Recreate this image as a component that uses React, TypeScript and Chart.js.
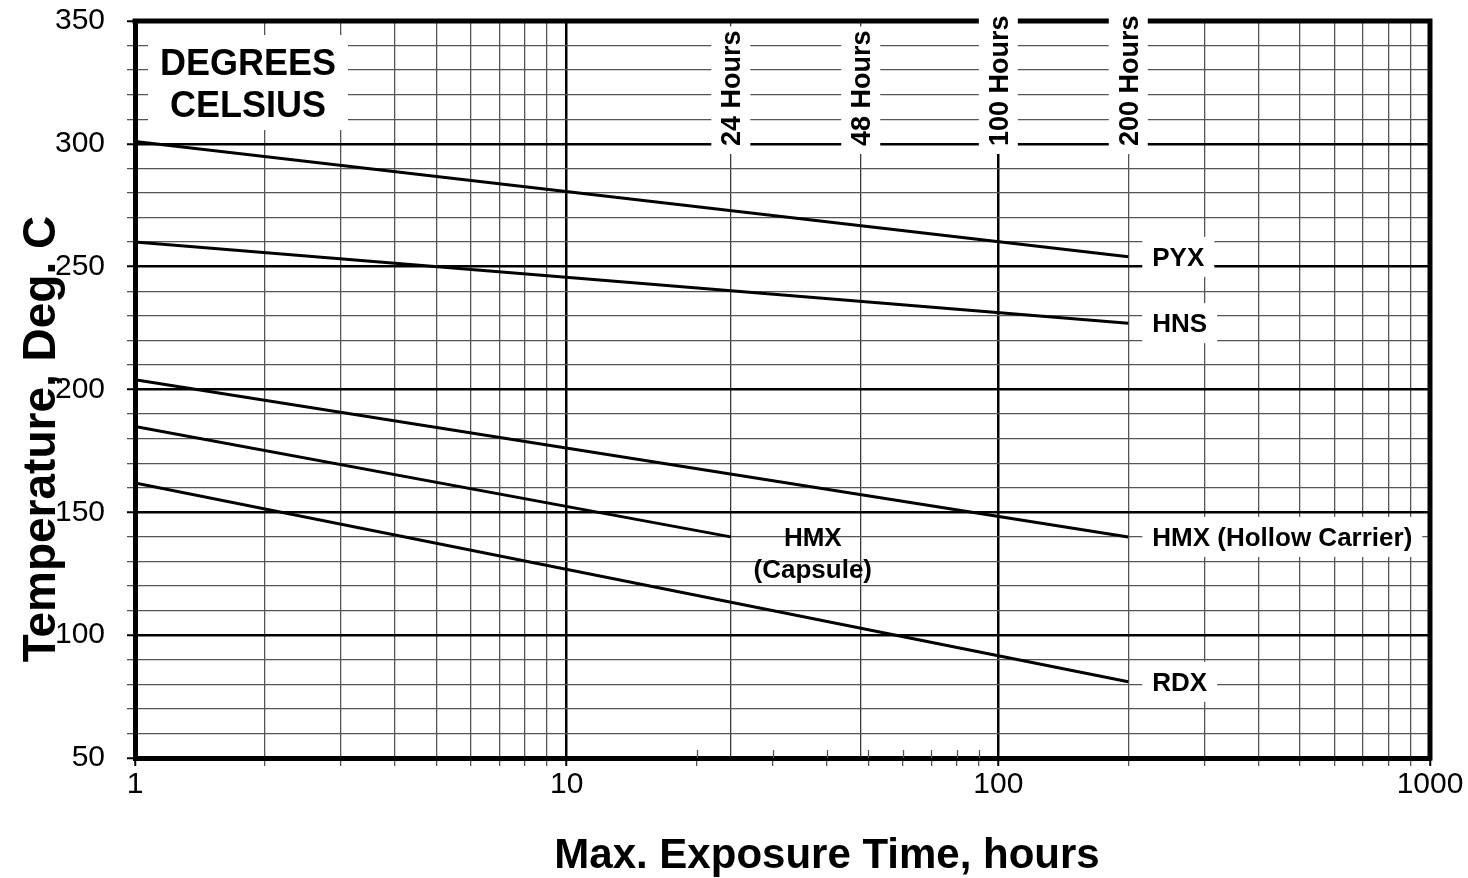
import React, { useEffect, useRef } from 'react';
import { Chart, registerables } from 'chart.js';

Chart.register(...registerables);

// ---- data ----
const seriesNames = ['PYX', 'HNS', 'HMX (Hollow Carrier)', 'HMX (Capsule)', 'RDX'];
const seriesLabelLines = [['PYX'], ['HNS'], ['HMX (Hollow Carrier)'], ['HMX', '(Capsule)'], ['RDX']];
const startHours = [1, 1, 1, 1, 1];
const endHours = [200, 200, 200, 24, 200];
const startTemps = [301, 260, 204, 185, 162];
const endTemps = [254, 227, 140, 140, 81];

const xTickValues = [1, 2, 3, 4, 5, 6, 7, 8, 9, 10, 20, 24, 30, 40, 48, 50, 60, 70, 80, 90, 100, 200, 300, 400, 500, 600, 700, 800, 900, 1000];
const xTickLabels = ['1', '10', '100', '1000'];
const yTickValues = [50, 60, 70, 80, 90, 100, 110, 120, 130, 140, 150, 160, 170, 180, 190, 200, 210, 220, 230, 240, 250, 260, 270, 280, 290, 300, 310, 320, 330, 340, 350];
const yTickLabels = ['50', '100', '150', '200', '250', '300', '350'];
const hourMarkers = [24, 48, 100, 200];
const hourLabels = ['24 Hours', '48 Hours', '100 Hours', '200 Hours'];
const boxTitle = ['DEGREES', 'CELSIUS'];
const xTitle = 'Max. Exposure Time, hours';
const yTitle = 'Temperature, Deg. C';

const FONT = "'Liberation Sans', Arial, Helvetica, sans-serif";
const MINOR = '#555555';
const CLEAR = 'rgba(0,0,0,0)';

export default function App() {
  const ref = useRef<HTMLCanvasElement>(null);

  useEffect(() => {
    document.body.style.margin = '0';
    const canvas = ref.current!;

    const isDecade = (v: number) => xTickLabels.includes(String(v));

    const overlay = {
      id: 'overlay',
      beforeDatasetsDraw(chart: any) {
        const { ctx, chartArea: a, scales } = chart;
        const xs = scales.x;
        ctx.save();
        ctx.strokeStyle = MINOR;
        ctx.lineWidth = 1.3;
        xs.ticks.forEach((t: any) => {
          const v = t.value;
          if (v > 10 && v < 100 && !hourMarkers.includes(v)) {
            const px = Math.round(xs.getPixelForValue(v)) + 0.5;
            ctx.beginPath();
            ctx.moveTo(px, a.bottom - 8);
            ctx.lineTo(px, a.bottom);
            ctx.stroke();
          }
        });
        ctx.strokeStyle = '#000';
        ctx.lineWidth = 5;
        ctx.lineCap = 'square';
        ctx.beginPath();
        ctx.moveTo(a.left, a.top);
        ctx.lineTo(a.right, a.top);
        ctx.lineTo(a.right, a.bottom);
        ctx.stroke();
        ctx.restore();
      },
      afterDraw(chart: any) {
        const { ctx, chartArea: a, scales } = chart;
        const xs = scales.x;
        const ys = scales.y;
        ctx.save();

        // hour labels (rotated, white background)
        ctx.font = `bold 27px ${FONT}`;
        hourMarkers.forEach((h, i) => {
          const px = xs.getPixelForValue(h);
          const base = a.top + 125;
          const w = ctx.measureText(hourLabels[i]).width;
          ctx.save();
          ctx.translate(px, base);
          ctx.rotate(-Math.PI / 2);
          ctx.fillStyle = '#fff';
          ctx.fillRect(-8, -19.5, w + 12, 39);
          ctx.fillStyle = '#000';
          ctx.textAlign = 'left';
          ctx.textBaseline = 'alphabetic';
          ctx.fillText(hourLabels[i], 0, 9.6);
          ctx.restore();
        });

        // series labels
        ctx.font = `bold 26px ${FONT}`;
        seriesNames.forEach((_, i) => {
          const ex = xs.getPixelForValue(endHours[i]);
          const ey = ys.getPixelForValue(endTemps[i]);
          const lines = seriesLabelLines[i];
          if (lines.length === 1) {
            const w = ctx.measureText(lines[0]).width;
            ctx.fillStyle = '#fff';
            ctx.fillRect(ex + 14, ey - 20, w + 20, 40);
            ctx.fillStyle = '#000';
            ctx.textAlign = 'left';
            ctx.textBaseline = 'alphabetic';
            ctx.fillText(lines[0], ex + 24, ey + 9.3);
          } else {
            ctx.fillStyle = '#000';
            ctx.textAlign = 'center';
            ctx.textBaseline = 'alphabetic';
            lines.forEach((ln, k) => {
              ctx.fillText(ln, ex + 82, ey + 9.3 + k * 32);
            });
          }
        });

        // DEGREES CELSIUS box
        ctx.fillStyle = '#fff';
        ctx.fillRect(a.left + 13, a.top + 14, 200, 95);
        ctx.fillStyle = '#000';
        ctx.font = `bold 36px ${FONT}`;
        ctx.textAlign = 'center';
        ctx.textBaseline = 'alphabetic';
        ctx.fillText(boxTitle[0], a.left + 113, a.top + 54);
        ctx.fillText(boxTitle[1], a.left + 113, a.top + 96);

        // axis titles
        ctx.font = `bold 42px ${FONT}`;
        ctx.fillText(xTitle, a.left + 692, a.bottom + 110);

        ctx.save();
        ctx.font = `bold 46px ${FONT}`;
        ctx.translate(55, a.top + 418);
        ctx.rotate(-Math.PI / 2);
        ctx.textAlign = 'center';
        ctx.fillText(yTitle, 0, 0);
        ctx.restore();

        ctx.restore();
      },
    };

    const datasets = seriesNames.map((name, i) => ({
      label: name,
      data: [
        { x: startHours[i], y: startTemps[i] },
        { x: endHours[i], y: endTemps[i] },
      ],
      borderColor: '#000',
      borderWidth: 3,
      pointRadius: 0,
      fill: false,
      tension: 0,
    }));

    const chart = new Chart(canvas, {
      type: 'line',
      data: { datasets },
      plugins: [overlay],
      options: {
        responsive: false,
        animation: false,
        devicePixelRatio: 1,
        layout: { padding: { left: 0, top: 21, right: 38, bottom: 0 } },
        plugins: { legend: { display: false }, tooltip: { enabled: false }, title: { display: false } },
        scales: {
          x: {
            type: 'logarithmic',
            min: 1,
            max: 1000,
            afterBuildTicks: (scale: any) => {
              scale.ticks = xTickValues.map((v) => ({ value: v }));
            },
            afterFit: (scale: any) => {
              scale.height = 120;
              scale.paddingLeft = 0;
              scale.paddingRight = 0;
            },
            ticks: {
              autoSkip: false,
              maxRotation: 0,
              minRotation: 0,
              padding: 1,
              color: '#000',
              font: { family: FONT, size: 30 },
              callback: (v: any) => (xTickLabels.includes(String(v)) ? String(v) : ''),
            },
            grid: {
              color: (c: any) => {
                const v = c.tick?.value;
                if (isDecade(v)) return '#000';
                if (v === 24 || v === 48) return '#3a3a3a';
                if (v > 10 && v < 100) return CLEAR;
                return MINOR;
              },
              lineWidth: (c: any) => (isDecade(c.tick?.value) ? 2.5 : 1.3),
              tickColor: (c: any) => {
                const v = c.tick?.value;
                if (v === 24 || v === 48) return CLEAR;
                if (isDecade(v)) return '#000';
                return MINOR;
              },
              tickWidth: (c: any) => (isDecade(c.tick?.value) ? 2 : 1.3),
              tickLength: 8,
            },
            border: { display: true, color: '#000', width: 5 },
          },
          y: {
            type: 'linear',
            min: 50,
            max: 350,
            afterBuildTicks: (scale: any) => {
              scale.ticks = yTickValues.map((v) => ({ value: v }));
            },
            afterFit: (scale: any) => {
              scale.width = 135;
              scale.paddingTop = 0;
              scale.paddingBottom = 0;
            },
            ticks: {
              autoSkip: false,
              padding: 22,
              color: '#000',
              font: { family: FONT, size: 30 },
              callback: (v: any) => (yTickLabels.includes(String(v)) ? String(v) : ''),
            },
            grid: {
              color: (c: any) => (c.tick?.value % 50 === 0 ? '#000' : MINOR),
              lineWidth: (c: any) => (c.tick?.value % 50 === 0 ? 2.5 : 1.3),
              tickColor: (c: any) => (c.tick?.value % 50 === 0 ? '#000' : MINOR),
              tickWidth: (c: any) => (c.tick?.value % 50 === 0 ? 2 : 1.3),
              tickLength: 8,
            },
            border: { display: true, color: '#000', width: 5 },
          },
        },
      },
    });

    return () => chart.destroy();
  }, []);

  return (
    <div style={{ width: 1468, height: 878, background: '#fff' }}>
      <canvas ref={ref} width={1468} height={878} style={{ display: 'block' }} />
    </div>
  );
}
